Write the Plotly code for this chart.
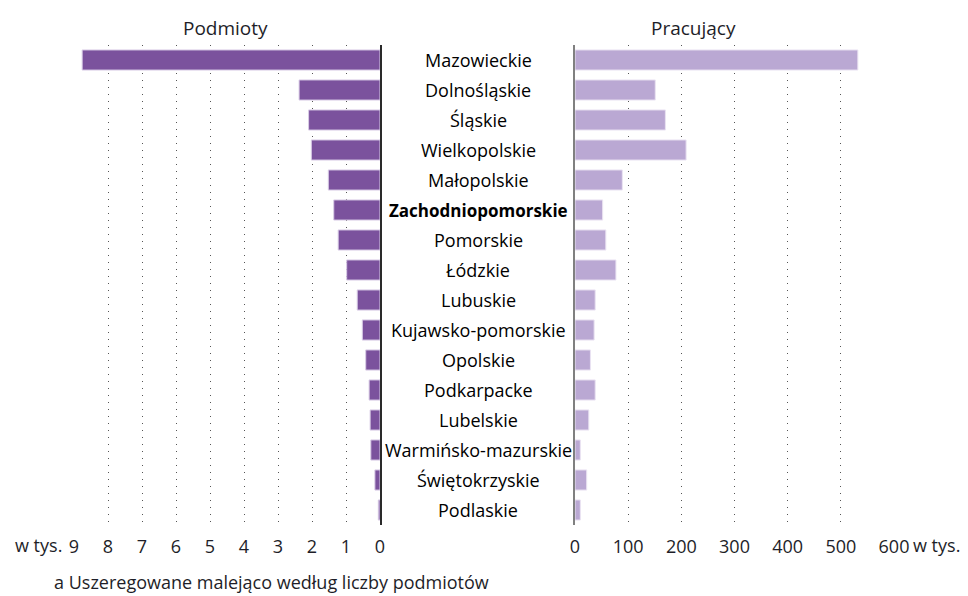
import plotly.graph_objects as go

W, H = 968, 596

regions = ["Mazowieckie", "Dolnośląskie", "Śląskie", "Wielkopolskie", "Małopolskie",
           "Zachodniopomorskie", "Pomorskie", "Łódzkie", "Lubuskie", "Kujawsko-pomorskie",
           "Opolskie", "Podkarpacke", "Lubelskie", "Warmińsko-mazurskie", "Świętokrzyskie",
           "Podlaskie"]
podmioty = [8.76, 2.38, 2.10, 2.02, 1.52, 1.36, 1.23, 0.98, 0.67, 0.52, 0.42, 0.32, 0.29, 0.27, 0.15, 0.05]
pracujacy = [532, 151, 170, 209, 89, 52, 58, 77, 38, 36, 29, 38, 26, 10, 22, 10]
highlight = "Zachodniopomorskie"
left_ticks = [9, 8, 7, 6, 5, 4, 3, 2, 1, 0]
right_ticks = [0, 100, 200, 300, 400, 500, 600]
unit = "w tys."
title_left = "Podmioty"
title_right = "Pracujący"
footnote = "a Uszeregowane malejąco według liczby podmiotów"

FONT = "Open Sans"
TXT = "#1e1e28"

def px(x):
    return x / W

def py(y):
    return 1 - y / H

fig = go.Figure()
fig.add_trace(go.Bar(y=regions, x=podmioty, orientation="h", xaxis="x", yaxis="y",
                     marker=dict(color="#7B529D", line=dict(color="#D9CCE6", width=1)),
                     hoverinfo="x+y"))
fig.add_trace(go.Bar(y=regions, x=pracujacy, orientation="h", xaxis="x2", yaxis="y2",
                     marker=dict(color="#BAA8D3", line=dict(color="#EAE3F2", width=1)),
                     hoverinfo="x+y"))

ydom = [py(525), py(45)]
grid = dict(showgrid=True, gridcolor="#555555", gridwidth=1, griddash="1px,6px",
            zeroline=False, showline=False, ticks="", automargin=False,
            tickfont=dict(family=FONT, size=18, color=TXT), ticklabelstandoff=9)

fig.update_layout(
    width=W, height=H, autosize=False,
    margin=dict(l=0, r=0, t=0, b=0, pad=0, autoexpand=False),
    paper_bgcolor="white", plot_bgcolor="white", showlegend=False, bargap=0.33,
    xaxis=dict(domain=[px(74), px(380)], range=[9, 0], tickvals=left_ticks, anchor="y", **grid),
    xaxis2=dict(domain=[px(575), px(894)], range=[0, 600], tickvals=right_ticks, anchor="y2", **grid),
    yaxis=dict(domain=ydom, anchor="x", autorange="reversed", showticklabels=False,
               showgrid=False, side="right", showline=True, linecolor="#2a2a2a", linewidth=1.5,
               ticks="", automargin=False),
    yaxis2=dict(domain=ydom, anchor="x2", autorange="reversed", showticklabels=False,
                showgrid=False, side="left", showline=True, linecolor="#808080", linewidth=2,
                ticks="", automargin=False),
)

ann = []
for r in regions:
    if r == highlight:
        t, fs = f"<b>{r}</b>", 17
    else:
        t, fs = r, 18
    ann.append(dict(x=px(478), xref="paper", y=r, yref="y", text=t, showarrow=False,
                    xanchor="center", yanchor="middle",
                    font=dict(family=FONT, size=fs, color="#000000")))
ann.append(dict(x=px(225), y=py(28), xref="paper", yref="paper", text=title_left, showarrow=False,
                xanchor="center", yanchor="middle", font=dict(family=FONT, size=19, color=TXT)))
ann.append(dict(x=px(693), y=py(28), xref="paper", yref="paper", text=title_right, showarrow=False,
                xanchor="center", yanchor="middle", font=dict(family=FONT, size=19, color=TXT)))
ann.append(dict(x=px(64), y=py(545), xref="paper", yref="paper", text=unit, showarrow=False,
                xanchor="right", yanchor="middle", font=dict(family=FONT, size=18, color=TXT)))
ann.append(dict(x=px(911), y=py(545), xref="paper", yref="paper", text=unit, showarrow=False,
                xanchor="left", yanchor="middle", font=dict(family=FONT, size=18, color=TXT)))
ann.append(dict(x=px(52), y=py(582), xref="paper", yref="paper", text=footnote, showarrow=False,
                xanchor="left", yanchor="middle", font=dict(family=FONT, size=18, color=TXT)))
fig.update_layout(annotations=ann)

fig.write_html("out.html", config={"displayModeBar": False},
               post_script="document.body.style.margin='0';document.body.style.overflow='hidden';")
